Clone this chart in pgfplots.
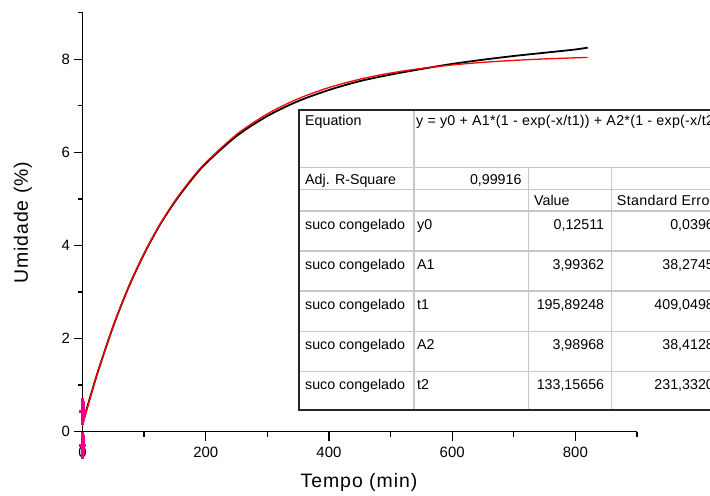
\documentclass[border=0pt]{standalone}
\usepackage{pgfplots}
\pgfplotsset{compat=1.18}
\usepackage{fontspec}
\setmainfont{Liberation Sans}
\newfontfamily\widefont[LetterSpace=1.9]{Liberation Sans}
\newfontfamily\sefont[LetterSpace=2.5]{Liberation Sans}
\newfontfamily\labfont[LetterSpace=5]{Liberation Sans}
\definecolor{gridgray}{HTML}{C8C8C8}
\newcommand{\trow}[4]{%
  \node[tt, anchor=base west] at (305bp,-#1 bp) {suco congelado};
  \node[tt, anchor=base west] at (417bp,-#1 bp) {#2};
  \node[tt, anchor=base east] at (604.3bp,-#1 bp) {#3};
  \node[tt, anchor=base east] at (722bp,-#1 bp) {#4};}
\begin{document}
\begin{tikzpicture}
\begin{axis}[
 scale only axis, width=554.5bp, height=419bp,
 at={(82.5bp,-431.7bp)}, anchor=south west,
 xmin=0, xmax=900, ymin=0, ymax=9,
 axis lines*=left,
 axis line style={line width=1.5bp, black},
 xtick={0,200,...,800}, minor xtick={100,300,...,900},
 ytick={0,2,...,8}, minor ytick={1,3,...,9},
 tick align=outside, major tick length=9bp, minor tick length=5bp,
 tick style={black, line width=1.3bp},
 tick label style={font=\fontsize{15}{17}\selectfont, /pgf/number format/assume math mode=true},
 xticklabel style={yshift=-3bp},
 clip=false,
 xlabel={Tempo (min)}, ylabel={Umidade (\%)},
 label style={font=\labfont\fontsize{19.5}{22}\selectfont},
 x label style={at={([yshift=-55.3bp]axis description cs:0.4986,0)}, anchor=base},
 y label style={at={([xshift=-54.5bp]axis description cs:0,0.4985)}, anchor=base},
]
\addplot[black, line width=1.8bp, smooth] coordinates {
(1,0.22) (10,0.63) (25,1.29) (50,2.27) (75,3.11) (100,3.82) (125,4.43) (150,4.94) (175,5.38) (200,5.76) (250,6.35) (300,6.78) (350,7.10) (400,7.34) (450,7.53) (500,7.67) (550,7.79) (600,7.90) (650,7.99) (700,8.07) (750,8.14) (800,8.21) (820,8.25)};
\addplot[red, line width=1.3bp, smooth] coordinates {
(0,0.125) (5,0.373) (10,0.613) (25,1.287) (50,2.274) (75,3.114) (100,3.829) (125,4.438) (150,4.958) (175,5.402) (200,5.781) (250,6.384) (300,6.826) (350,7.152) (400,7.392) (450,7.571) (500,7.704) (550,7.803) (600,7.878) (650,7.934) (700,7.976) (750,8.007) (800,8.031) (820,8.039)};
\addplot[magenta, line width=3bp, only marks, mark=-, mark size=3.5bp,
 error bars/.cd, y dir=both, y explicit, error mark=-,
 error bar style={line width=4bp, magenta},
 error mark options={magenta, mark size=3.2bp, line width=2.5bp}]
 coordinates {(0,0.44) +- (0,0.22) (0,-0.29) +- (0,0.22)};
\end{axis}
\draw[line width=1.5bp] (74bp,-431.7bp) -- (82.5bp,-431.7bp);
% table
\tikzset{tt/.style={font=\fontsize{14.3}{16}\selectfont, inner sep=0pt}}
\fill[white] (299bp,-110bp) rectangle (740bp,-410bp);
\begin{scope}[gridgray, line width=1.4bp]
\foreach \yy in {167.3,189.3,211,251,291,331.7,371.7}
  \draw (299bp,-\yy bp) -- (740bp,-\yy bp);
\draw (414bp,-110bp) -- (414bp,-410bp);
\draw (528.3bp,-167.3bp) -- (528.3bp,-410bp);
\draw (611.7bp,-167.3bp) -- (611.7bp,-410bp);
\end{scope}
\draw[black!85, line width=2bp] (740bp,-110bp) -- (299bp,-110bp) -- (299bp,-410bp) -- (740bp,-410bp);
\node[tt, anchor=base west] at (305bp,-125.7bp) {Equation};
\node[tt, anchor=base west] at (416bp,-125.7bp) {\widefont y = y0 + A1*(1 - exp(-x/t1)) + A2*(1 - exp(-x/t2))};
\node[tt, anchor=base west] at (305bp,-184.3bp) {Adj. R-Square};
\node[tt, anchor=base east] at (521.7bp,-184.3bp) {0,99916};
\node[tt, anchor=base west] at (534bp,-205bp) {Value};
\node[tt, anchor=base west] at (616.7bp,-205bp) {\sefont Standard Error};
\trow{229}{y0}{0,12511}{0,03966}
\trow{269}{A1}{3,99362}{38,27453}
\trow{309}{t1}{195,89248}{409,04986}
\trow{349.7}{A2}{3,98968}{38,41289}
\trow{389.7}{t2}{133,15656}{231,33207}
\pgfresetboundingbox
\path[use as bounding box] (0,0) rectangle (710bp,-496bp);
\end{tikzpicture}
\end{document}
